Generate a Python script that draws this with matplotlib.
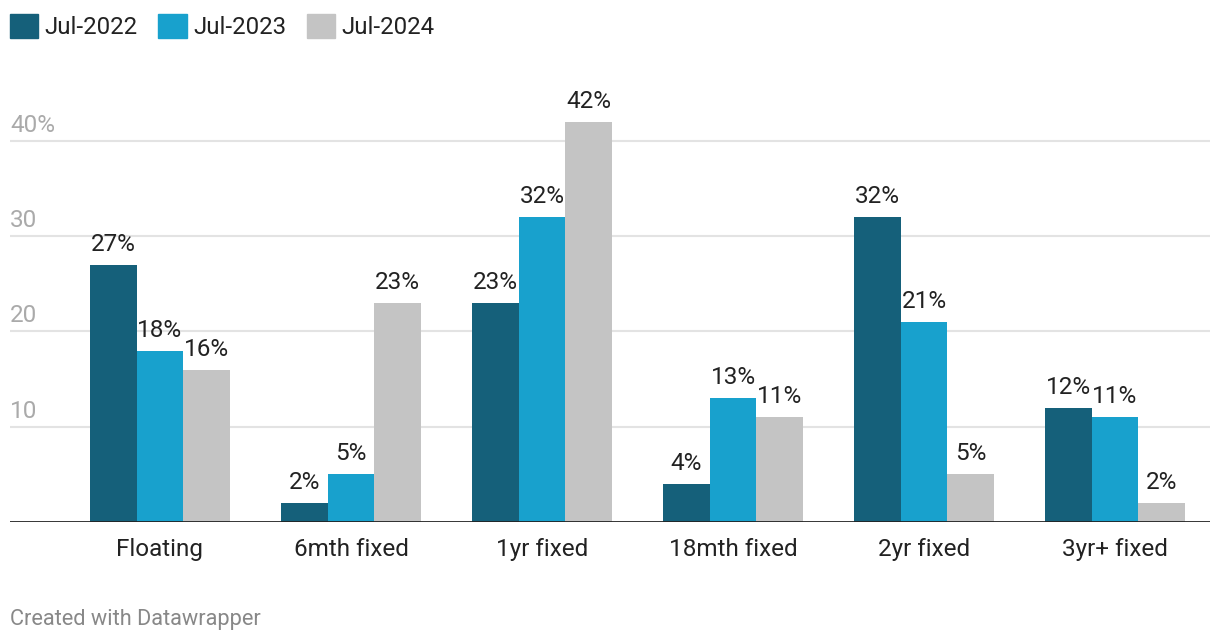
import matplotlib.pyplot as plt
from matplotlib.patches import Patch

plt.rcParams['font.family'] = ['Roboto', 'DejaVu Sans']

categories = ["Floating", "6mth fixed", "1yr fixed", "18mth fixed", "2yr fixed", "3yr+ fixed"]
series_names = ["Jul-2022", "Jul-2023", "Jul-2024"]
jul_2022 = [27, 2, 23, 4, 32, 12]
jul_2023 = [18, 5, 32, 13, 21, 11]
jul_2024 = [16, 23, 42, 11, 5, 2]
y_ticks = [10, 20, 30, 40]
y_tick_labels = ["10", "20", "30", "40%"]

colors = ["#15607a", "#18a1cd", "#c4c4c4"]
text_color = "#222222"

fig = plt.figure(figsize=(12.2, 6.44), dpi=100)
ax = fig.add_axes([10 / 1220, 1 - 522 / 644, 1200 / 1220, 442 / 644])

width = 0.2445
x = list(range(len(categories)))
for k, (vals, col) in enumerate(zip([jul_2022, jul_2023, jul_2024], colors)):
    xs = [i + (k - 1) * width for i in x]
    ax.bar(xs, vals, width=width, color=col, zorder=2)
    for xi, v in zip(xs, vals):
        ax.annotate(f"{v}%", xy=(xi, v), xytext=(0, 14), textcoords='offset pixels',
                    ha='center', va='baseline', fontsize=17.5, color=text_color)

ax.set_xlim(-0.785, 5.497)
ax.set_ylim(0, 46.4)

for t, lab in zip(y_ticks, y_tick_labels):
    ax.axhline(t, color="#e3e3e3", lw=1.5, zorder=1)
    ax.annotate(lab, xy=(0, t), xycoords=('axes fraction', 'data'), xytext=(0, 9),
                textcoords='offset pixels', ha='left', va='baseline', fontsize=17.5,
                color="#aaaaaa")
ax.axhline(0, color=text_color, lw=2, zorder=3)

for i, c in zip(x, categories):
    ax.annotate(c, xy=(i, 0), xycoords=('data', 'axes fraction'), xytext=(0, -34),
                textcoords='offset pixels', ha='center', va='baseline', fontsize=17.5,
                color=text_color)

ax.set_xticks([])
ax.set_yticks([])
for s in ax.spines.values():
    s.set_visible(False)

handles = [Patch(color=c, label=n) for c, n in zip(colors, series_names)]
fig.legend(handles=handles, loc='upper left', bbox_to_anchor=(10 / 1220, 1 - 14 / 644),
           ncol=3, frameon=False, fontsize=17.3, handlelength=1.17, handleheight=1.17,
           handletextpad=0.28, columnspacing=0.85, borderpad=0, borderaxespad=0,
           labelcolor=text_color)

fig.text(10 / 1220, 1 - 619 / 644, "Created with Datawrapper", ha='left', va='center',
         fontsize=15.7, color="#888888")

fig.savefig("out.png", dpi=100)
